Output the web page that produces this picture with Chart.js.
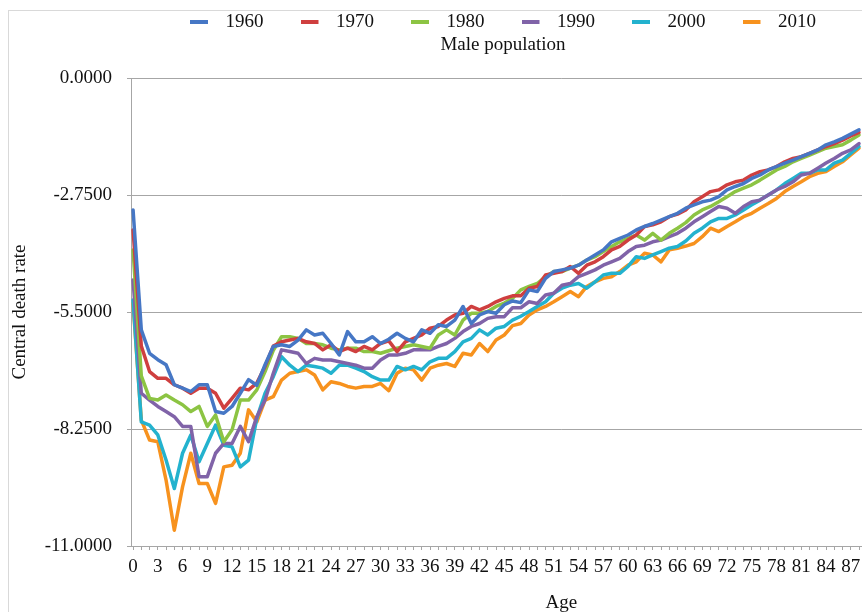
<!DOCTYPE html>
<html><head><meta charset="utf-8">
<script src="https://cdn.jsdelivr.net/npm/chart.js@4/dist/chart.umd.min.js"></script>
<style>
html,body{margin:0;padding:0;background:#fff;overflow:hidden;width:862px;height:612px;}
#box{position:absolute;left:8px;top:10px;width:995px;height:640px;border:1px solid #d9d9d9;box-sizing:border-box;background:#fff;}
#c{position:absolute;left:0;top:0;display:block;}
</style></head><body>
<div id="box"><canvas id="c" width="988" height="615"></canvas></div>
<script>
// ---- data ----
const ages = [];
for (let a = 0; a <= 88; a++) ages.push(a);
const seriesNames = ['1960','1970','1980','1990','2000','2010'];
const d1960 = [-3.1,-5.92,-6.47,-6.62,-6.74,-7.21,-7.29,-7.37,-7.21,-7.21,-7.84,-7.88,-7.72,-7.41,-7.09,-7.22,-6.74,-6.31,-6.27,-6.31,-6.16,-5.92,-6.04,-6.0,-6.24,-6.51,-5.96,-6.2,-6.2,-6.08,-6.24,-6.14,-6.0,-6.12,-6.2,-5.92,-6.0,-5.8,-5.84,-5.69,-5.37,-5.77,-5.57,-5.49,-5.53,-5.33,-5.24,-5.28,-4.98,-5.02,-4.71,-4.55,-4.51,-4.47,-4.4,-4.28,-4.16,-4.04,-3.85,-3.77,-3.69,-3.57,-3.49,-3.42,-3.34,-3.26,-3.18,-3.06,-2.98,-2.91,-2.87,-2.79,-2.63,-2.55,-2.48,-2.36,-2.28,-2.16,-2.08,-2.0,-1.93,-1.85,-1.77,-1.69,-1.57,-1.5,-1.42,-1.32,-1.22];
const d1970 = [-3.57,-6.3,-6.9,-7.06,-7.06,-7.21,-7.29,-7.41,-7.29,-7.29,-7.41,-7.76,-7.53,-7.29,-7.33,-7.17,-6.78,-6.3,-6.2,-6.16,-6.12,-6.2,-6.24,-6.39,-6.27,-6.43,-6.35,-6.43,-6.31,-6.39,-6.24,-6.18,-6.43,-6.2,-6.12,-6.04,-5.88,-5.84,-5.69,-5.57,-5.53,-5.37,-5.45,-5.37,-5.26,-5.18,-5.12,-5.12,-4.94,-4.9,-4.63,-4.59,-4.55,-4.43,-4.59,-4.4,-4.32,-4.2,-4.04,-3.96,-3.81,-3.69,-3.49,-3.45,-3.38,-3.26,-3.2,-3.1,-2.91,-2.79,-2.67,-2.63,-2.51,-2.44,-2.4,-2.28,-2.2,-2.16,-2.08,-1.97,-1.89,-1.85,-1.77,-1.69,-1.61,-1.54,-1.46,-1.36,-1.28];
const d1980 = [-4.04,-7.0,-7.53,-7.57,-7.45,-7.57,-7.68,-7.84,-7.72,-8.19,-7.92,-8.55,-8.27,-7.57,-7.57,-7.33,-6.9,-6.4,-6.08,-6.08,-6.12,-6.24,-6.24,-6.27,-6.35,-6.39,-6.35,-6.35,-6.43,-6.43,-6.47,-6.41,-6.35,-6.31,-6.27,-6.31,-6.35,-6.04,-5.92,-6.04,-5.69,-5.53,-5.53,-5.49,-5.37,-5.29,-5.18,-4.98,-4.9,-4.83,-4.67,-4.55,-4.55,-4.47,-4.4,-4.28,-4.2,-4.08,-3.96,-3.85,-3.77,-3.69,-3.81,-3.65,-3.81,-3.65,-3.53,-3.4,-3.22,-3.1,-3.02,-2.91,-2.79,-2.67,-2.59,-2.51,-2.4,-2.28,-2.16,-2.08,-1.97,-1.89,-1.81,-1.73,-1.65,-1.61,-1.57,-1.46,-1.34];
const d1990 = [-4.75,-7.41,-7.57,-7.72,-7.84,-7.96,-8.19,-8.19,-9.37,-9.37,-8.82,-8.59,-8.59,-8.19,-8.55,-7.96,-7.57,-6.94,-6.39,-6.43,-6.47,-6.71,-6.59,-6.63,-6.63,-6.67,-6.71,-6.75,-6.82,-6.82,-6.63,-6.51,-6.51,-6.47,-6.39,-6.39,-6.39,-6.31,-6.24,-6.12,-5.96,-5.84,-5.77,-5.65,-5.61,-5.61,-5.4,-5.4,-5.26,-5.3,-5.1,-5.06,-4.87,-4.83,-4.67,-4.59,-4.51,-4.4,-4.32,-4.24,-4.08,-3.96,-3.93,-3.85,-3.81,-3.73,-3.65,-3.53,-3.38,-3.26,-3.14,-3.02,-3.06,-3.18,-3.02,-2.91,-2.87,-2.75,-2.63,-2.55,-2.44,-2.28,-2.24,-2.12,-2.0,-1.89,-1.77,-1.69,-1.54];
const d2000 = [-5.22,-8.08,-8.16,-8.39,-8.98,-9.65,-8.82,-8.39,-9.02,-8.59,-8.16,-8.63,-8.67,-9.14,-8.98,-8.0,-7.41,-7.02,-6.55,-6.75,-6.9,-6.75,-6.78,-6.82,-6.94,-6.75,-6.75,-6.82,-6.9,-7.02,-7.1,-7.1,-6.78,-6.86,-6.78,-6.86,-6.67,-6.59,-6.59,-6.43,-6.2,-6.12,-5.92,-6.04,-5.88,-5.84,-5.69,-5.6,-5.49,-5.37,-5.26,-5.06,-4.94,-4.87,-4.83,-4.94,-4.79,-4.63,-4.59,-4.59,-4.43,-4.2,-4.24,-4.16,-4.08,-4.0,-3.96,-3.83,-3.65,-3.53,-3.38,-3.3,-3.3,-3.22,-3.1,-2.98,-2.87,-2.75,-2.63,-2.48,-2.36,-2.24,-2.24,-2.16,-2.16,-2.0,-1.93,-1.77,-1.61];
const d2010 = [-5.3,-8.04,-8.51,-8.55,-9.45,-10.63,-9.61,-8.82,-9.53,-9.53,-10.0,-9.14,-9.1,-8.82,-7.8,-8.08,-7.57,-7.49,-7.1,-6.94,-6.9,-6.86,-6.98,-7.33,-7.14,-7.18,-7.25,-7.29,-7.25,-7.25,-7.18,-7.35,-6.94,-6.82,-6.86,-7.1,-6.82,-6.75,-6.71,-6.78,-6.47,-6.51,-6.24,-6.43,-6.16,-6.04,-5.82,-5.77,-5.57,-5.45,-5.37,-5.26,-5.14,-5.02,-5.14,-4.9,-4.79,-4.71,-4.67,-4.55,-4.4,-4.32,-4.12,-4.16,-4.32,-4.04,-4.0,-3.95,-3.89,-3.73,-3.53,-3.61,-3.49,-3.38,-3.26,-3.18,-3.06,-2.95,-2.83,-2.67,-2.55,-2.44,-2.32,-2.24,-2.2,-2.08,-1.97,-1.81,-1.65];
const yTicks = [0, -2.75, -5.5, -8.25, -11];
const xTickStep = 3;

// ---- styling ----
const colors = ['#4677C5','#CF3F3F','#8CC443','#8063A8','#23B2CE','#F7921E'];
const FONT = 'Liberation Serif, Times New Roman, serif';
const FS = 19;
const LEG_BW = 26;
function legendImg(color){
  const c = document.createElement('canvas');
  c.width = LEG_BW; c.height = 4;
  const g = c.getContext('2d');
  g.fillStyle = color;
  g.fillRect(0, 0, 18, 4);
  return c;
}
const allSeries = [d1960, d1970, d1980, d1990, d2000, d2010];
const datasets = allSeries.map((vals, i) => ({
  label: seriesNames[i],
  data: ages.map((a, k) => ({x: a, y: vals[k]})),
  borderColor: colors[i],
  backgroundColor: colors[i],
  borderWidth: 3.5,
  pointRadius: 0,
  pointHoverRadius: 0,
  pointStyle: legendImg(colors[i]),
  tension: 0,
  fill: false,
  borderJoinStyle: 'round',
  borderCapStyle: 'round'
}));

const CANVAS_LEFT = 9, CANVAS_TOP = 11;
const X_MAX = 104;
const chart = new Chart(document.getElementById('c'), {
  type: 'line',
  data: { datasets },
  options: {
    responsive: false,
    animation: false,
    devicePixelRatio: 1,
    events: [],
    layout: { padding: { top: -35.5, left: 0, right: 0, bottom: 10 } },
    plugins: {
      legend: {
        display: true, position: 'top', weight: 3000, maxHeight: 57,
        labels: {
          usePointStyle: true, pointStyleWidth: LEG_BW, padding: 37,
          color: '#111', font: { family: FONT, size: FS }
        }
      },
      title: {
        display: true, text: 'Male population', weight: 500,
        color: '#111', font: { family: FONT, size: FS, weight: 'normal' },
        padding: { top: 1, bottom: 21 }
      },
      tooltip: { enabled: false }
    },
    scales: {
      x: {
        type: 'linear', position: 'bottom', min: -0.25, max: X_MAX + 0.08,
        afterFit: s => { s.height = 70; },
        afterBuildTicks: s => { s.ticks = []; for (let v = 0; v <= X_MAX; v++) s.ticks.push({value: v}); },
        ticks: {
          autoSkip: false, maxRotation: 0, minRotation: 0, padding: 6,
          color: '#111', font: { family: FONT, size: FS },
          callback: v => (v % xTickStep === 0 ? String(v) : '')
        },
        grid: { drawOnChartArea: false, drawTicks: true, tickLength: 4, color: '#a6a6a6' },
        border: { display: true, color: '#a6a6a6' },
        title: { display: true, text: 'Age', color: '#111', font: { family: FONT, size: FS }, padding: { top: 0, bottom: 2 } }
      },
      y: {
        min: -11, max: 0,
        afterFit: s => { s.width = 131 - CANVAS_LEFT; },
        afterBuildTicks: s => { s.ticks = yTicks.map(v => ({value: v})); },
        ticks: {
          padding: 15, color: '#111', font: { family: FONT, size: FS },
          callback: v => Number(v).toFixed(4)
        },
        grid: { color: '#a6a6a6', lineWidth: 1, tickLength: 4 },
        border: { display: true, color: '#a6a6a6' },
        title: { display: true, text: 'Central death rate', color: '#111', font: { family: FONT, size: FS }, padding: { top: 0, bottom: 0 } }
      }
    }
  }
});
// align plot top with the reference (y = 78 on page)
const dTop = (78 - CANVAS_TOP) - chart.chartArea.top;
if (Math.abs(dTop) > 0.5) {
  chart.options.plugins.title.padding.bottom += dTop;
  chart.update('none');
}
</script>
</body></html>
